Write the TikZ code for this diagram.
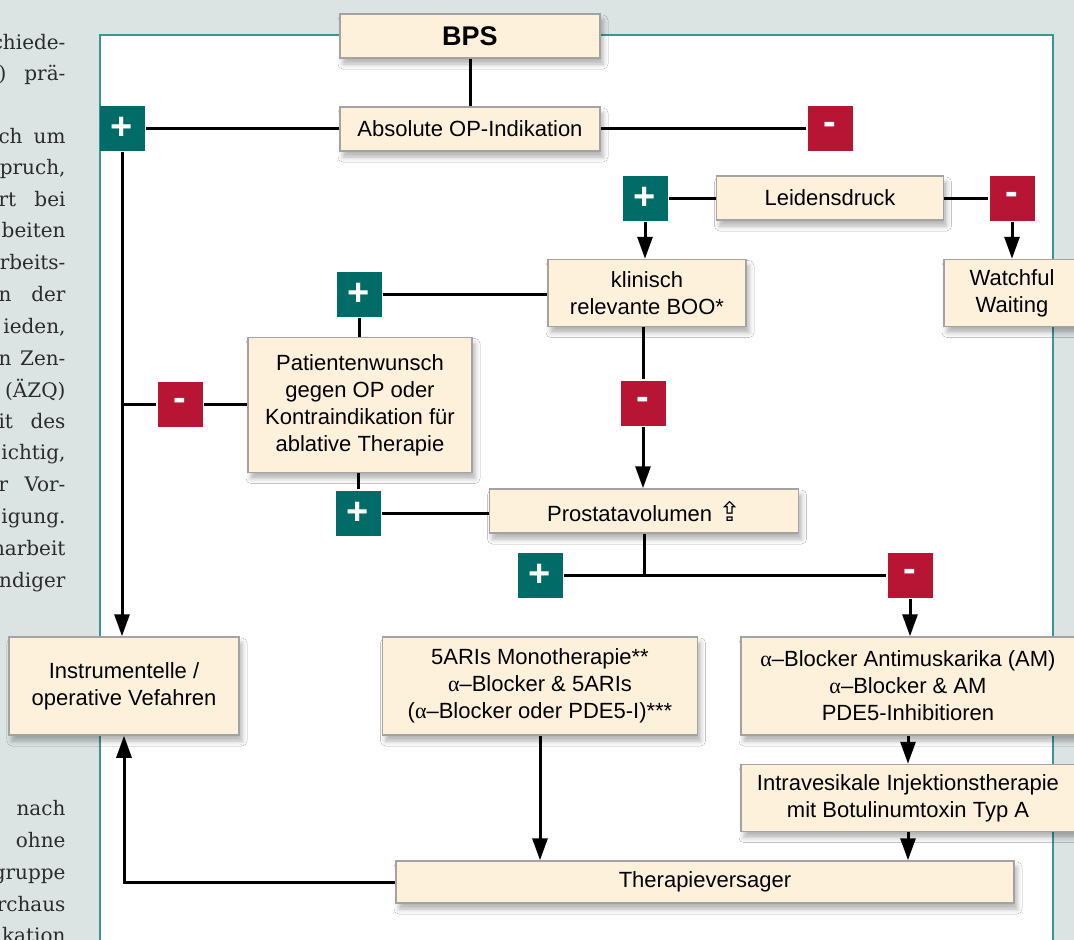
\documentclass[tikz,border=0pt]{standalone}
\usepackage{fontspec}
\setmainfont{Liberation Sans}
\newfontfamily\pageserif{DejaVu Serif}
\newfontfamily\alphaserif{Liberation Serif}
\newfontfamily\arrowglyph{DejaVu Sans}
\usetikzlibrary{arrows.meta, shadows.blur}
\definecolor{pagebg}{HTML}{DCE4E3}
\definecolor{framecol}{HTML}{3E9494}
\definecolor{boxfill}{HTML}{FDF1DC}
\definecolor{boxframe}{HTML}{A3A3A3}
\definecolor{yescol}{HTML}{006B67}
\definecolor{nocol}{HTML}{B81535}
\definecolor{serifcol}{HTML}{2B2B2B}
\newcommand{\boxfont}{\fontsize{22}{27}\selectfont}
\newcommand{\signfont}{\fontsize{38}{38}\selectfont\bfseries}
\newcommand{\columnfont}{\pageserif\fontsize{20}{24}\selectfont}
\newcommand{\al}{{\alphaserif α}--Blocker}
\tikzset{
  box/.style={draw=boxframe, line width=1.5pt, fill=boxfill, align=center,
    inner sep=0pt, font=\boxfont,
    blur shadow={shadow xshift=3pt, shadow yshift=-6pt,
      shadow blur radius=5pt, shadow opacity=30}},
  plusbox/.style={fill=yescol, minimum size=45pt, inner sep=0pt,
    text=white, font=\signfont},
  minusbox/.style={plusbox, fill=nocol},
  pagetext/.style={text=serifcol, font=\columnfont, inner sep=0pt,
    anchor=base east}
}

\begin{document}
\begin{tikzpicture}[x=1pt, y=-1pt, line width=3pt,
  >={Triangle[width=15pt, length=22pt]}]

  % Page and panel.
  \clip (0,0) rectangle (1074,940);
  \fill[pagebg] (0,0) rectangle (1074,940);
  \fill[white] (100,35) rectangle (1053,960);
  \draw[framecol, line width=1.5pt] (100,960) -- (100,35) -- (1053,35) -- (1053,960);

  % Column text cut off at the left.
  \foreach \y/\txt [count=\i] in {49/chiede-, 80/{)\hfill prä-},
      143/{ch\hfill um}, 174/{pruch,}, 206/{rt\hfill bei}, 237/beiten,
      269/rbeits-, 301/{n\hfill der}, 333/{ieden,}, 365/{n\hfill Zen-},
      397/(ÄZQ), 428/{it\hfill des}, 459/{ichtig,}, 491/{r\hfill Vor-},
      523/igung., 555/narbeit, 587/ndiger, 815/nach, 847/ohne,
      879/gruppe, 911/rchaus, 942/kation}
    \node[pagetext] (col\i) at (67,\y) {\makebox[67pt][r]{\txt}};

  % Boxes.
  \node[box, minimum width=260pt, minimum height=44pt,
    font=\fontsize{27}{30}\selectfont\bfseries] (bps) at (470,36) {BPS};
  \node[box, minimum width=260pt, minimum height=44pt] (absop) at (470,129)
    {Absolute OP-Indikation};
  \node[box, minimum width=227pt, minimum height=44pt] (leid) at (830,198)
    {Leidensdruck};
  \node[box, minimum width=198pt, minimum height=67pt] (boo) at (647,293)
    {klinisch\\relevante BOO*};
  \node[box, minimum width=136pt, minimum height=67pt] (watch) at (1012,293)
    {Watchful\\Waiting};
  \node[box, minimum width=224pt, minimum height=135pt] (wunsch) at (360,405)
    {Patientenwunsch\\gegen OP oder\\Kontraindikation für\\ablative Therapie};
  \node[box, minimum width=309pt, minimum height=44pt] (vol) at (644,511)
    {Prostatavolumen {\arrowglyph\fontsize{27}{27}\selectfont ⇪}};
  \node[box, minimum width=230pt, minimum height=98pt] (instr) at (124,686)
    {Instrumentelle /\\operative Vefahren};
  \node[box, minimum width=315pt, minimum height=98pt] (fivea) at (540,686)
    {5ARIs Monotherapie**\\\al{} \& 5ARIs\\(\al{} oder PDE5-I)***};
  \node[box, minimum width=334pt, minimum height=98pt] (alpha) at (908,686)
    {\al{} Antimuskarika (AM)\\\al{} \& AM\\PDE5-Inhibitioren};
  \node[box, minimum width=334pt, minimum height=67pt] (intra) at (908,798)
    {Intravesikale Injektionstherapie\\mit Botulinumtoxin Typ A};
  \node[box, minimum width=618pt, minimum height=42pt] (versag) at (705,882)
    {Therapieversager};

  % Decisions.
  \node[plusbox] (p1) at (122,128) {+};
  \node[minusbox] (m1) at (830,128) {-};
  \node[plusbox] (p2) at (645,198) {+};
  \node[minusbox] (m2) at (1012,198) {-};
  \node[plusbox] (p3) at (359,294) {+};
  \node[minusbox] (m3) at (180,404) {-};
  \node[minusbox] (m4) at (643,403) {-};
  \node[plusbox] (p4) at (358,513) {+};
  \node[plusbox] (p5) at (540,575) {+};
  \node[minusbox] (m5) at (910,575) {-};

  % Absolute indication.
  \draw (bps) -- (absop);
  \draw (p1) -- (p1 -| absop.west);
  \draw (absop.east |- m1) -- (m1);
  \draw[->] (p1) -- (p1 |- instr.north);

  % Suffering.
  \draw (p2) -- (leid);
  \draw (leid) -- (m2);
  \draw[->] (p2) -- (p2 |- boo.north);
  \draw[->] (m2) -- (m2 |- watch.north);

  % Patient wish.
  \draw (p3) -- (p3 -| boo.west);
  \draw (p3) -- (p3 |- wunsch.north);
  \draw (m3) -- (m3 -| wunsch.west);
  \draw (m3) -- (m3 -| p1);
  \draw (p4 |- wunsch.south) -- (p4);
  \draw (p4) -- (p4 -| vol.west);

  % Prostate volume.
  \draw (m4 |- boo.south) -- (m4);
  \draw[->] (m4) -- (m4 |- vol.north);
  \coordinate (split) at (vol.south |- p5);
  \draw (vol) -- (split);
  \draw (p5) -- (m5);
  \draw[->] (m5) -- (m5 |- alpha.north);

  % Therapy.
  \draw[->] (alpha.south) -- (intra.north);
  \draw[->] (intra.south) -- (intra.south |- versag.north);
  \draw[->] (fivea) -- (fivea |- versag.north);
  \draw[->] (versag.west) -| (instr.south);

\end{tikzpicture}
\end{document}
